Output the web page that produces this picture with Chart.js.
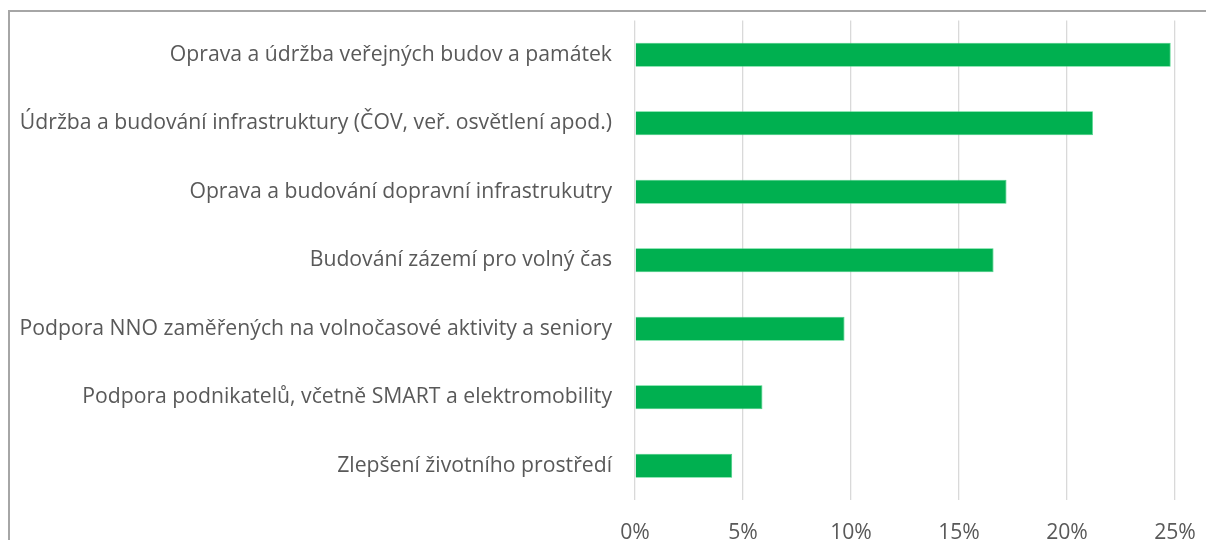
<!DOCTYPE html>
<html>
<head>
<meta charset="utf-8">
<script src="https://cdn.jsdelivr.net/npm/chart.js@4.4.1/dist/chart.umd.min.js"></script>
<style>
  html, body { margin: 0; padding: 0; background: #fff; overflow: hidden; }
  #wrap { position: relative; width: 1206px; height: 540px; }
  #frame { position: absolute; left: 8px; top: 10px; width: 1300px; height: 700px;
           border: 2px solid #a6a6a6; box-sizing: border-box; }
  canvas { position: absolute; left: 0; top: 0; }
</style>
</head>
<body>
<div id="wrap">
  <div id="frame"></div>
  <canvas id="chart" width="1206" height="540"></canvas>
</div>
<script>
// --- data ---
const categories = [
  'Oprava a údržba veřejných budov a památek',
  'Údržba a budování infrastruktury (ČOV, veř. osvětlení apod.)',
  'Oprava a budování dopravní infrastrukutry',
  'Budování zázemí pro volný čas',
  'Podpora NNO zaměřených na volnočasové aktivity a seniory',
  'Podpora podnikatelů, včetně SMART a elektromobility',
  'Zlepšení životního prostředí'
];
const shares = [24.8, 21.2, 17.2, 16.6, 9.7, 5.9, 4.5];
const xTicks = [0, 5, 10, 15, 20, 25];

// --- font sizing: longest label should span ~592px like the original ---
const family = '"Open Sans", "Liberation Sans", sans-serif';
const mctx = document.createElement('canvas').getContext('2d');
mctx.font = '20px ' + family;
const longest = Math.max(...categories.map(c => mctx.measureText(c).width));
const labelSize = Math.round(20 * 592 / longest * 10) / 10;

Chart.defaults.font.family = family;
Chart.defaults.color = '#595959';

new Chart(document.getElementById('chart'), {
  type: 'bar',
  data: {
    labels: categories,
    datasets: [{
      data: shares,
      backgroundColor: '#00b050',
      borderColor: '#3dd27f',
      borderWidth: 0.8,
      categoryPercentage: 0.35,
      barPercentage: 1
    }]
  },
  options: {
    indexAxis: 'y',
    responsive: false,
    animation: false,
    layout: { padding: { top: 20.5, right: 31, left: 0, bottom: 0 } },
    plugins: { legend: { display: false }, tooltip: { enabled: false } },
    scales: {
      x: {
        min: 0, max: 25,
        afterBuildTicks: s => { s.ticks = xTicks.map(v => ({ value: v })); },
        afterFit: s => { s.height = 40; s.paddingLeft = 0; s.paddingRight = 0; },
        grid: { color: '#d9d9d9', lineWidth: 1.3, drawTicks: false },
        border: { display: false },
        ticks: { padding: 20, font: { size: labelSize }, callback: v => v + '%' }
      },
      y: {
        afterFit: s => { s.width = 635; s.paddingTop = 0; s.paddingBottom = 0; },
        grid: { display: false, drawTicks: false },
        border: { display: false },
        ticks: { padding: 23, font: { size: labelSize }, color: '#595959' }
      }
    }
  }
});
</script>
</body>
</html>
